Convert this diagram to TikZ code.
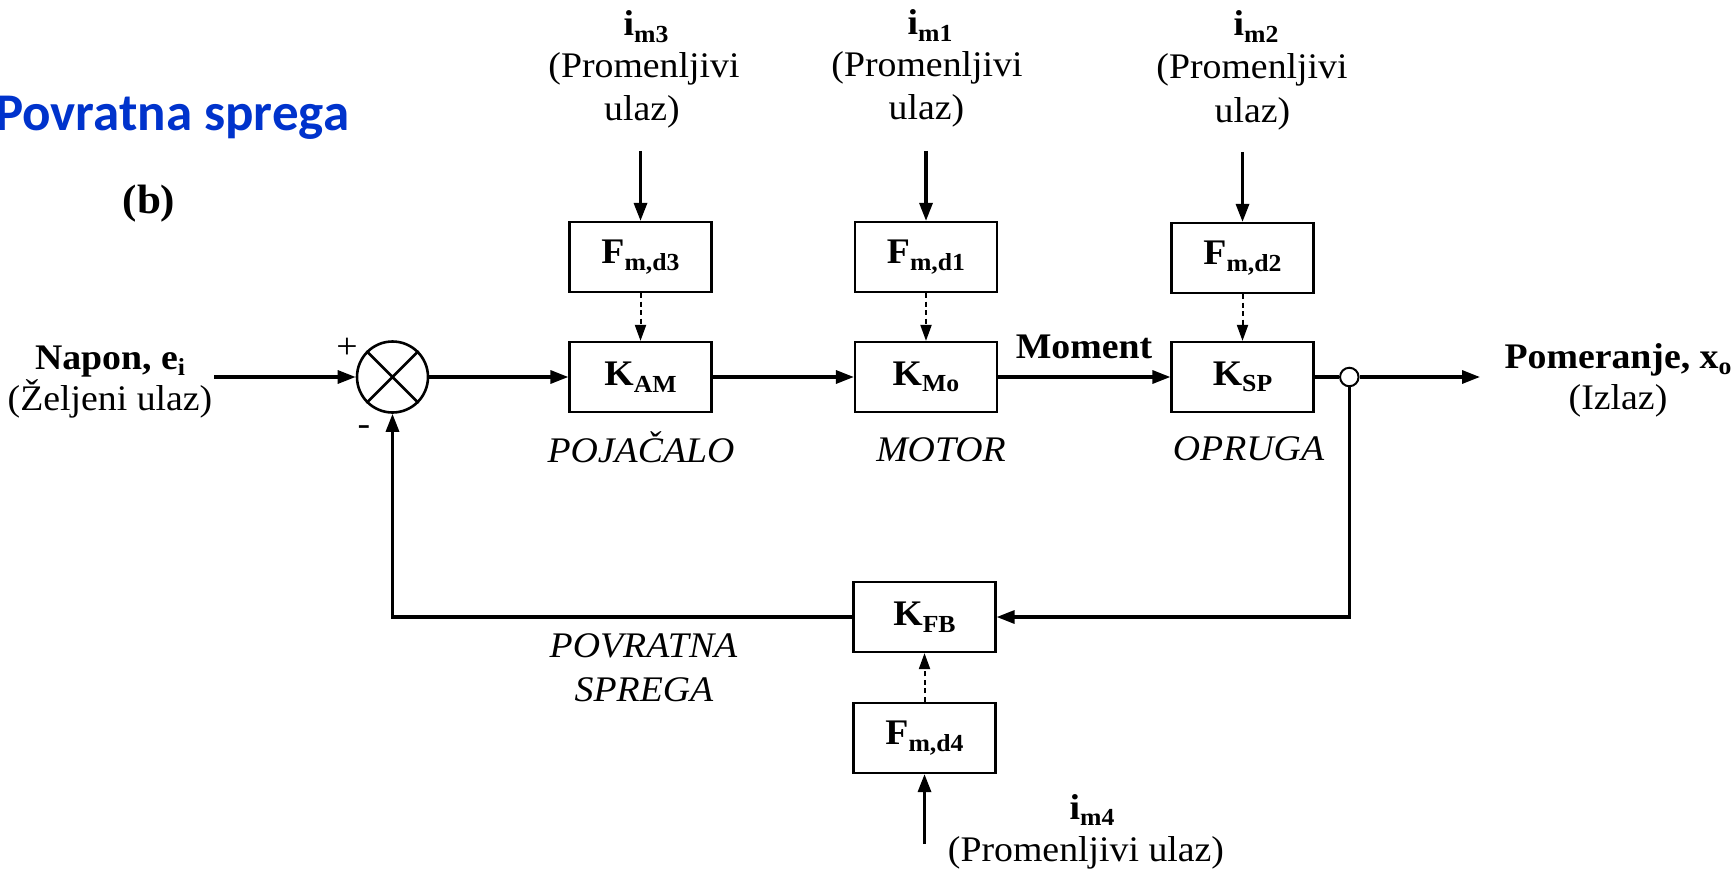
\documentclass[tikz,border=0pt]{standalone}
\usepackage{fontspec}
\setmainfont{Liberation Serif}[FakeStretch=1.05]
\newfontfamily\titlefont{Carlito}
\usetikzlibrary{arrows.meta}
\definecolor{titleblue}{RGB}{0,51,204}
% lowered, smaller subscript
\newcommand\dn[1]{\raisebox{-6.5pt}{\fontsize{24.5}{24.5}\selectfont #1}}
\begin{document}
\begin{tikzpicture}[x=1pt,y=-1pt,
  txt/.style={inner sep=0pt,font=\fontsize{36}{43}\selectfont},
  btxt/.style={inner sep=0pt,font=\fontsize{36}{43}\selectfont\bfseries},
  itxt/.style={inner sep=0pt,font=\fontsize{36}{43}\selectfont\itshape},
  blk/.style={draw,line width=2.2pt,minimum width=142pt,minimum height=70pt,
              inner sep=0pt,font=\fontsize{36}{43}\selectfont\bfseries},
  arr/.style={line width=3.2pt,-{Triangle[length=18pt,width=13pt]}},
  darr/.style={line width=2pt,dash pattern=on 5pt off 3.5pt,
               -{Triangle[length=16pt,width=11pt]}},
  ln/.style={line width=3.2pt}]
\useasboundingbox (0,0) rectangle (1736,872);

% heading
\node[anchor=base west,inner sep=0pt,text=titleblue,
      font=\fontsize{53}{60}\titlefont\bfseries] (title) at (-5,131) {Povratna sprega};
\node[anchor=base,inner sep=0pt,font=\fontsize{41}{48}\selectfont\bfseries] (lblb) at (149,213) {(b)};

% summing junction
\node[circle,draw,line width=2.6pt,minimum size=71pt,inner sep=0pt] (sum) at (392.5,377) {};
\draw[line width=2.6pt] (sum.north west) -- (sum.south east) (sum.north east) -- (sum.south west);
\node[txt,anchor=center] (plus) at (347,348) {+};
\node[txt,anchor=center] (minus) at (364,431) {-};

% forward path blocks
\node[blk] (fd3) at (640.5,257) {F\dn{m,d3}};
\node[blk] (kam) at (640.5,377) {K\dn{AM}};
\node[blk] (fd1) at (926,257) {F\dn{m,d1}};
\node[blk] (kmo) at (926,377) {K\dn{Mo}};
\node[blk] (fd2) at (1242.5,258) {F\dn{m,d2}};
\node[blk] (ksp) at (1242.5,377) {K\dn{SP}};

% feedback blocks
\node[blk] (kfb) at (924.5,617) {K\dn{FB}};
\node[blk] (fd4) at (924.5,738) {F\dn{m,d4}};

% take-off point
\node[circle,draw,line width=2pt,fill=white,minimum size=18.5pt,inner sep=0pt] (po) at (1349.3,377) {};

% free ends
\coordinate (in) at (214,377);
\coordinate (out) at (1480,377);
\coordinate (t3) at ([yshift=70pt]fd3.north);
\coordinate (t1) at ([yshift=70pt]fd1.north);
\coordinate (t2) at ([yshift=70pt]fd2.north);
\coordinate (b4) at ([yshift=-70pt]fd4.south);

% connectors
\draw[arr] (in) -- (sum);
\draw[arr] (sum) -- (kam);
\draw[arr] (kam) -- (kmo);
\draw[arr] (kmo) -- (ksp);
\draw[ln] (ksp) -- (po);
\draw[arr] (po) -- (out);
\draw[arr] (po) |- (kfb);
\draw[arr] (kfb) -| (sum);
\draw[arr] (t3) -- (fd3);
\draw[arr] (t1) -- (fd1);
\draw[arr] (t2) -- (fd2);
\draw[arr] (b4) -- (fd4);
\draw[darr] (fd3) -- (kam);
\draw[darr] (fd1) -- (kmo);
\draw[darr] (fd2) -- (ksp);
\draw[darr] (fd4) -- (kfb);

% input / output labels
\node[btxt,anchor=base] (napon) at (110,369) {Napon, e\dn{i}};
\node[txt,anchor=base] (zelj) at (110,410) {(Željeni ulaz)};
\node[btxt,anchor=base] (moment) at (1084,358) {Moment};
\node[btxt,anchor=base] (pom) at (1618,368) {Pomeranje, x\dn{o}};
\node[txt,anchor=base] (izlaz) at (1618,409) {(Izlaz)};

% disturbance inputs
\node[btxt,anchor=base] (im3) at (646,36) {i\dn{m3}};
\node[txt,anchor=base] (pr3) at (644,78) {(Promenljivi};
\node[txt,anchor=base] (ul3) at (642,121) {ulaz)};
\node[btxt,anchor=base] (im1) at (930,35) {i\dn{m1}};
\node[txt,anchor=base] (pr1) at (927,76.5) {(Promenljivi};
\node[txt,anchor=base] (ul1) at (926.5,119.5) {ulaz)};
\node[btxt,anchor=base] (im2) at (1256,36) {i\dn{m2}};
\node[txt,anchor=base] (pr2) at (1252,79) {(Promenljivi};
\node[txt,anchor=base] (ul2) at (1252.5,122) {ulaz)};
\node[btxt,anchor=base] (im4) at (1092,819) {i\dn{m4}};
\node[txt,anchor=base] (pr4) at (1086,861) {(Promenljivi ulaz)};

% block names
\node[itxt,anchor=base] (nam) at (641,462) {POJAČALO};
\node[itxt,anchor=base] (nmo) at (941,461) {MOTOR};
\node[itxt,anchor=base] (nsp) at (1248.5,460) {OPRUGA};
\node[itxt,anchor=base] (nfb1) at (643.5,657) {POVRATNA};
\node[itxt,anchor=base] (nfb2) at (644,701.5) {SPREGA};
\end{tikzpicture}
\end{document}
